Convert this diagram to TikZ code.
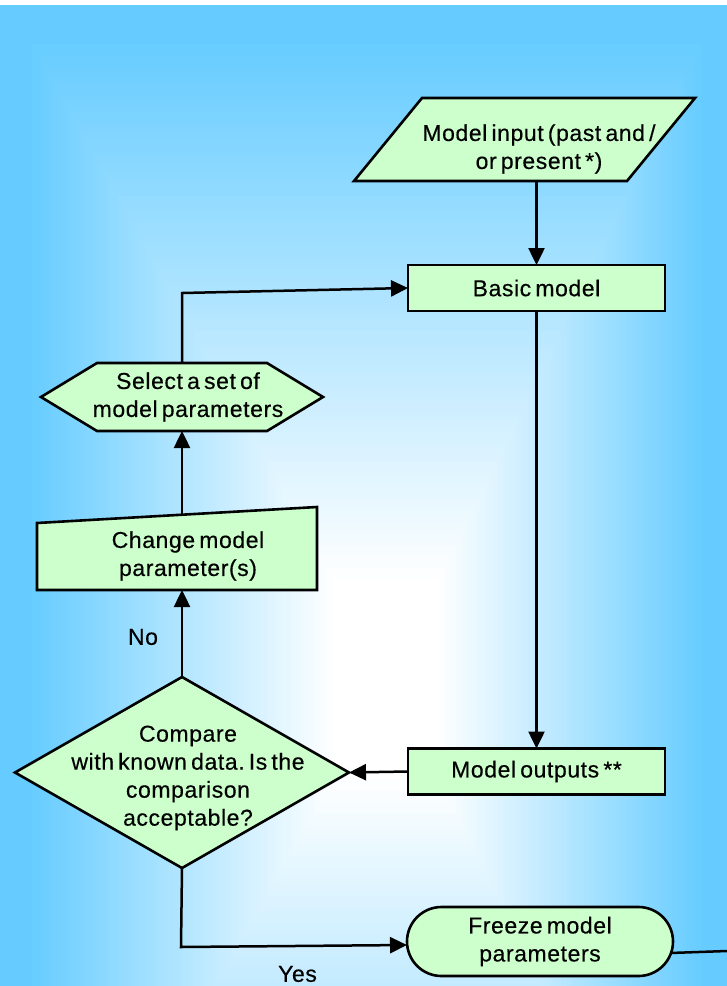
\documentclass[tikz,border=0pt]{standalone}
\usepackage{fontspec}
\setmainfont{Liberation Sans}[LetterSpace=2.5,WordSpace=0.6,FakeBold=0.4]
\usetikzlibrary{arrows.meta,shapes.misc}
\definecolor{skyblue}{RGB}{102,204,255}
\definecolor{boxgreen}{RGB}{204,255,204}
\newcommand{\flowfont}{\fontsize{23pt}{28pt}\selectfont\frenchspacing}

\begin{document}
\begin{tikzpicture}[x=1pt,y=-1pt,
  outline/.style={draw=black,line width=2.6pt,fill=boxgreen,line join=miter},
  anchorbox/.style={draw=none,rectangle,inner sep=0pt,outer sep=0pt},
  box/.style={outline,rectangle,inner sep=0pt,outer sep=0pt,
    minimum width=257pt,minimum height=46pt,font=\flowfont,align=center},
  txt/.style={align=center,font=\flowfont,inner sep=0pt},
  conn/.style={line width=2.5pt,-{Triangle[length=17pt,width=16pt]}},
  wire/.style={line width=2.5pt},
]
\useasboundingbox (0,0) rectangle (727,986);

% backdrop: white strip on top, then a rectangular blue-to-white gradient
\fill[white] (0,0) rectangle (727,986);
\begin{scope}
  \clip (0,5) rectangle (727,986);
  \fill[skyblue] (0,5) rectangle (727,986);
  \foreach \i in {120,...,1}{
    \pgfmathsetmacro\t{\i/120}
    \pgfmathsetmacro\s{max(0,min(1,(\t-0.15)/0.8))*100}
    \fill[skyblue!\s!white] ({390-\t*380},{680-\t*675}) rectangle ({390+\t*330},{680+\t*665});
  }
\end{scope}

% model input (parallelogram)
\draw[outline] (354,181) -- (422,98) -- (695,98) -- (627,181) -- cycle;
\node[anchorbox,minimum width=341pt,minimum height=83pt] (input) at (524.5,139.5) {};
\node[txt] (inputtext) at (539,149) {Model input (past and /\\or present *)};

% basic model
\node[box] (basic) at (536.5,288) {Basic model};

% select parameters (hexagon)
\draw[outline] (41,397) -- (97,363) -- (267,363) -- (323,397) -- (267,431) -- (97,431) -- cycle;
\node[anchorbox,minimum width=282pt,minimum height=68pt] (select) at (182,397) {};
\node[txt] (selecttext) at (188,397) {Select a set of\\model parameters};

% change parameters (manual input)
\draw[outline] (37,523) -- (317,507) -- (317,590) -- (37,590) -- cycle;
\node[anchorbox,minimum width=280pt,minimum height=83pt] (change) at (177,548.5) {};
\coordinate (changetop) at (182,514.5);
\node[txt] (changetext) at (188,556) {Change model\\parameter(s)};

% comparison (decision)
\draw[outline] (182,677) -- (349,772.5) -- (182,868) -- (15,772.5) -- cycle;
\node[anchorbox,minimum width=334pt,minimum height=191pt] (compare) at (182,772.5) {};
\node[txt] (comparetext) at (188,778) {Compare\\with known data. Is the\\comparison\\acceptable?};

% model outputs
\node[box] (outputs) at (536.5,771.5) {Model outputs **};

% freeze parameters (terminator)
\node[box,rounded rectangle,minimum width=266pt,minimum height=69pt] (freeze) at (540,941.5) {Freeze model\\parameters};

% branch labels
\node[txt] (nolabel) at (143,637) {No};
\node[txt] (yeslabel) at (297.5,974) {Yes};

% connectors
\coordinate (loopcorner) at (182,293);
\coordinate (yescorner) at (181,947);
\coordinate (exitend) at (727,951);
\draw[conn] (input.south -| basic.north) -- (basic.north);
\draw[conn] (basic.south) -- (outputs.north);
\draw[conn] (outputs.west) -- (compare.east);
\draw[conn] (compare.north) -- (compare.north |- change.south);
\draw[conn] (changetop) -- (select.south);
\draw[conn] (select.north) -- (loopcorner) -- (basic.west);
\draw[conn] (compare.south) -- (yescorner) -- ([yshift=-3.5pt]freeze.west);
\draw[wire] (freeze.-5) -- (exitend);
\end{tikzpicture}
\end{document}
